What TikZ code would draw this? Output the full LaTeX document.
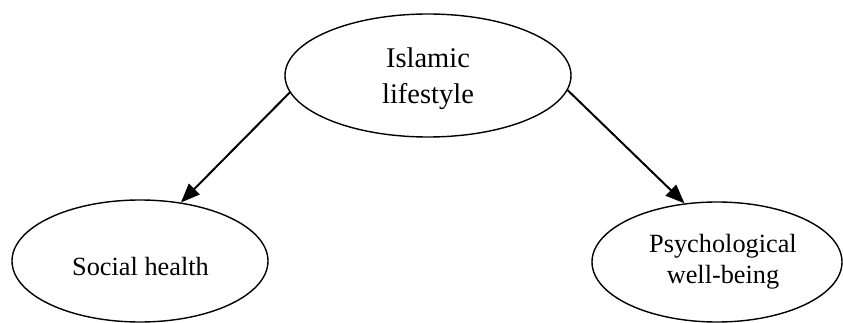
\documentclass[tikz,border=0pt]{standalone}
\usepackage{fontspec}
\setmainfont{Liberation Serif}
\usetikzlibrary{shapes.geometric,arrows.meta}
\tikzset{
  oval/.style={draw, ellipse, line width=1.4pt, inner sep=0pt},
  txt/.style={align=center, inner sep=0pt},
  arr/.style={line width=2pt, -{Triangle[length=19pt,width=15pt]}}
}
\begin{document}
\begin{tikzpicture}[x=1pt,y=-1pt]
\useasboundingbox (0,0) rectangle (843,323);
\node[oval, minimum width=286pt, minimum height=123pt] (top) at (428,75.5) {};
\node[oval, minimum width=256pt, minimum height=122pt] (soc) at (140,261) {};
\node[oval, minimum width=250pt, minimum height=120pt] (psy) at (717,262) {};
\node[txt, font=\fontsize{28.5}{36}\selectfont] (ttop) at (428,78.5) {Islamic\\lifestyle};
\node[txt, font=\fontsize{26.3}{31.5}\selectfont] (tsoc) at (140.5,266.8) {Social health};
\node[txt, font=\fontsize{26.3}{31.5}\selectfont] (tpsy) at (723,261.5) {Psychological\\well-being};
\draw[arr] (top.187.5) -- (soc.55);
\draw[arr] (top.354.7) -- (psy.119.5);
\end{tikzpicture}
\end{document}
